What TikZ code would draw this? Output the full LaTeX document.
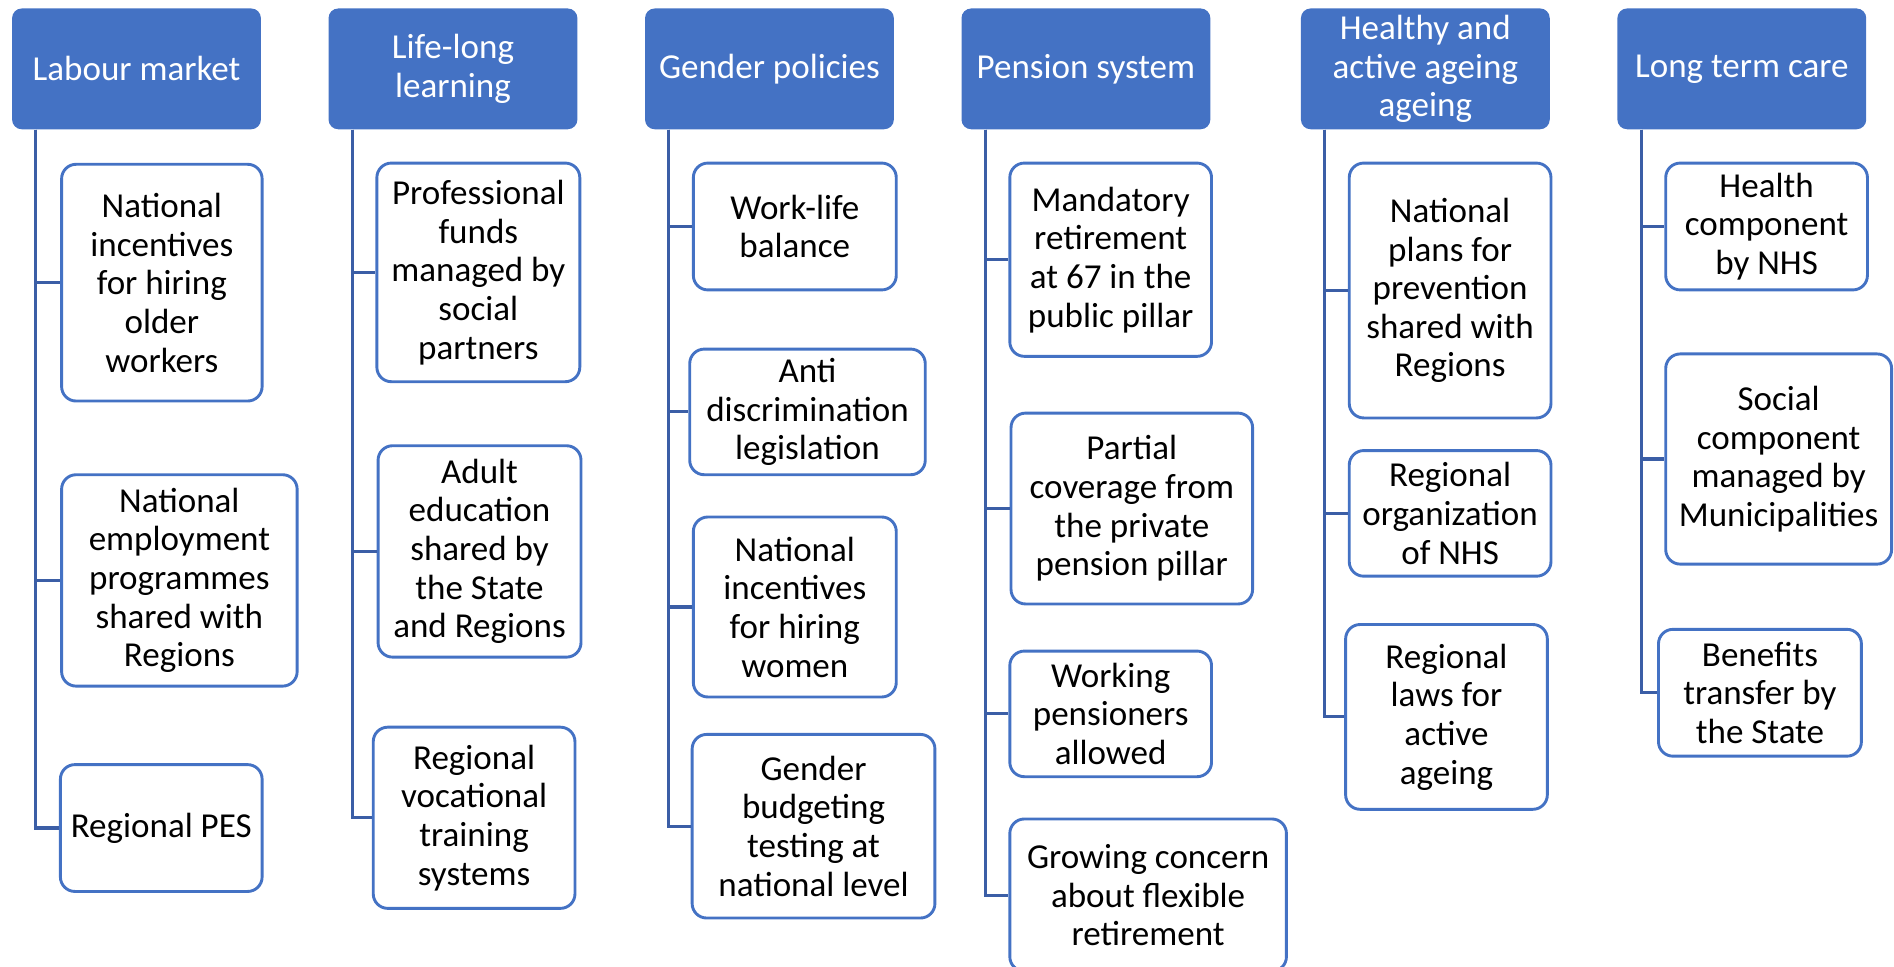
\documentclass[tikz,border=0pt]{standalone}
\usepackage{fontspec}
\setmainfont{Carlito}
\definecolor{hdrfill}{HTML}{4472C4}
\definecolor{bord}{HTML}{4472C4}
\definecolor{connc}{HTML}{3B5EA6}
\newcommand\bx[7]{\node[#1, minimum width={(#5-#3)*0.5pt}, minimum height={(#6-#4)*0.5pt}] (#2) at ({(#3+#5)/2},{(#4+#6)/2}) {#7};}
\begin{document}
\begin{tikzpicture}[x=0.5pt,y=-0.5pt,
  hdrbox/.style={fill=hdrfill, draw=none, rounded corners=4pt, text=white, align=center, inner sep=0pt, font=\fontsize{14.5}{16}\selectfont},
  kid/.style={draw=bord, line width=1.2pt, fill=white, rounded corners=6pt, align=center, inner sep=0pt, font=\fontsize{14.5}{16}\selectfont},
  link/.style={draw=connc, line width=1.3pt}]
\useasboundingbox (0,0) rectangle (1568,800);
% headers
\bx{hdrbox}{h1}{10}{7}{216}{107}{Labour market}
\bx{hdrbox}{h2}{272}{7}{478}{107}{Life-long\\learning}
\bx{hdrbox}{h3}{534}{7}{740}{107}{Gender policies}
\bx{hdrbox}{h4}{796}{7}{1002}{107}{Pension system}
\bx{hdrbox}{h5}{1077}{7}{1283}{107}{Healthy and\\active ageing\\ageing}
\bx{hdrbox}{h6}{1339}{7}{1545}{107}{Long term care}
% column 1
\bx{kid}{a1}{51}{136}{217}{332}{National\\incentives\\for hiring\\older\\workers}
\bx{kid}{a2}{51}{393}{246}{568}{National\\employment\\programmes\\shared with\\Regions}
\bx{kid}{a3}{50}{633}{217}{738}{Regional PES}
% column 2
\bx{kid}{b1}{312}{135}{480}{316}{Professional\\funds\\managed by\\social\\partners}
\bx{kid}{b2}{313}{369}{481}{544}{Adult\\education\\shared by\\the State\\and Regions}
\bx{kid}{b3}{309}{602}{476}{752}{Regional\\vocational\\training\\systems}
% column 3
\bx{kid}{c1}{574}{135}{742}{240}{Work-life\\balance}
\bx{kid}{c2}{571}{289}{766}{393}{Anti\\discrimination\\legislation}
\bx{kid}{c3}{574}{428}{742}{577}{National\\incentives\\for hiring\\women}
\bx{kid}{c4}{573}{608}{774}{760}{Gender\\budgeting\\testing at\\national level}
% column 4
\bx{kid}{d1}{836}{135}{1003}{295}{Mandatory\\retirement\\at 67 in the\\public pillar}
\bx{kid}{d2}{837}{342}{1037}{500}{Partial\\coverage from\\the private\\pension pillar}
\bx{kid}{d3}{836}{539}{1003}{643}{Working\\pensioners\\allowed}
\bx{kid}{d4}{836}{678}{1065}{804}{Growing concern\\about flexible\\retirement}
% column 5
\bx{kid}{e1}{1117}{135}{1284}{346}{National\\plans for\\prevention\\shared with\\Regions}
\bx{kid}{e2}{1117}{373}{1284}{477}{Regional\\organization\\of NHS}
\bx{kid}{e3}{1114}{517}{1281}{670}{Regional\\laws for\\active\\ageing}
% column 6
\bx{kid}{f1}{1379}{135}{1546}{240}{Health\\component\\by NHS}
\bx{kid}{f2}{1379}{293}{1566}{467}{Social\\component\\managed by\\Municipalities}
\bx{kid}{f3}{1373}{521}{1541}{626}{Benefits\\transfer by\\the State}
% connectors
\foreach \h/\kids in {h1/{a1,a2,a3}, h2/{b1,b2,b3}, h3/{c1,c2,c3,c4}, h4/{d1,d2,d3,d4}, h5/{e1,e2,e3}, h6/{f1,f2,f3}}{
  \foreach \k in \kids {
    \draw[link] ([xshift=10pt]\h.south west) |- (\k.west);
  }
}
\end{tikzpicture}
\end{document}
